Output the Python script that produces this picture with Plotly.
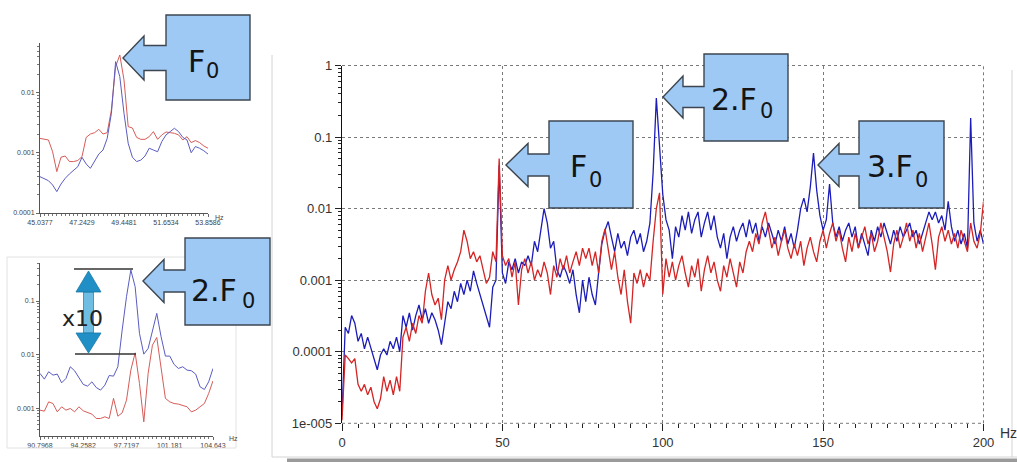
import numpy as np
import plotly.graph_objects as go

W, H = 1017, 462

# ---- main spectrum, 0..200 Hz (1 Hz bins) ----
freq = list(range(201))
blue = [
    1.3e-5, 2.2e-4, 1.8e-4, 3.2e-4, 2.5e-4, 1.4e-4, 1.8e-4, 1.1e-4, 1.6e-4, 1.1e-4,
    8e-5, 5.6e-5, 9e-5, 1.1e-4, 9e-5, 1.4e-4, 1.1e-4, 1.6e-4, 1e-4, 3.2e-4,
    2.2e-4, 3.5e-4, 2e-4, 3.2e-4, 4.5e-4, 2.8e-4, 4e-4, 2.5e-4, 3.5e-4, 2.8e-4,
    2e-4, 1.26e-4, 2.5e-4, 5e-4, 4e-4, 7e-4, 5e-4, 9e-4, 6.3e-4, 1e-3,
    7e-4, 1.35e-3, 9e-4, 6.3e-4, 4.5e-4, 3.2e-4, 2.2e-4, 8e-4, 1e-3, 0.04,
    1.26e-3, 9e-4, 1.8e-3, 1.4e-3, 2e-3, 1.26e-3, 1.8e-3, 1.6e-3, 2.2e-3, 1.6e-3,
    3.5e-3, 2.5e-3, 5e-3, 0.01, 6.3e-3, 2.8e-3, 3.5e-3, 1.4e-3, 1.1e-3, 1.6e-3,
    1.26e-3, 9e-4, 1.4e-3, 6.3e-4, 3.5e-4, 1e-3, 5e-4, 1.1e-3, 6.3e-4, 4.5e-4,
    1.26e-3, 3.2e-3, 5e-3, 6.6e-3, 4e-3, 2.5e-3, 4.5e-3, 2.8e-3, 3.5e-3, 2.2e-3,
    4e-3, 5e-3, 3.2e-3, 4.5e-3, 2.5e-3, 3.5e-3, 6.3e-3, 0.032, 0.35, 0.08,
    0.016, 7e-3, 5e-3, 2e-3, 5.6e-3, 4e-3, 8e-3, 5e-3, 9e-3, 4.5e-3,
    7e-3, 9e-3, 4e-3, 6.3e-3, 9e-3, 5e-3, 8e-3, 4e-3, 2.8e-3, 4.5e-3,
    2e-3, 4e-3, 5.6e-3, 3.5e-3, 5e-3, 6.3e-3, 4e-3, 7e-3, 4.5e-3, 6.3e-3,
    3.5e-3, 5.6e-3, 4e-3, 6.3e-3, 4.5e-3, 3.2e-3, 5e-3, 3.5e-3, 5.6e-3, 3.2e-3,
    4.5e-3, 2.8e-3, 5e-3, 0.01, 0.014, 9e-3, 0.02, 0.06, 0.018, 8e-3,
    5e-3, 7e-3, 0.022, 6.3e-3, 4e-3, 5.6e-3, 3.5e-3, 5e-3, 6.3e-3, 4e-3,
    5.6e-3, 2.8e-3, 4.5e-3, 3.2e-3, 2.2e-3, 5e-3, 3.5e-3, 5.6e-3, 4e-3, 6.3e-3,
    4.5e-3, 3.2e-3, 5e-3, 3.5e-3, 5.6e-3, 4e-3, 5e-3, 6.3e-3, 4e-3, 5e-3,
    3.2e-3, 4.5e-3, 6.3e-3, 9e-3, 7e-3, 9e-3, 6.3e-3, 8e-3, 5e-3, 0.0126,
    5.6e-3, 3.5e-3, 5e-3, 3.2e-3, 4.5e-3, 2.8e-3, 0.185, 6.3e-3, 3.5e-3, 5e-3,
    3.2e-3,
]
red = [
    1.1e-5, 9e-5, 8e-5, 7e-5, 8e-5, 3.5e-5, 2.8e-5, 3.5e-5, 2.5e-5, 3.2e-5,
    2e-5, 1.6e-5, 2.2e-5, 4.5e-5, 2.8e-5, 4e-5, 2.5e-5, 4.5e-5, 2.8e-5, 1.6e-4,
    2.2e-4, 1.4e-4, 2.5e-4, 1.8e-4, 3.2e-4, 2.5e-4, 7e-4, 1.26e-3, 6.3e-4, 4.5e-4,
    5.6e-4, 2.8e-4, 1e-3, 1.6e-3, 1e-3, 1.4e-3, 1.8e-3, 2.5e-3, 5e-3, 3.5e-3,
    2e-3, 2.5e-3, 1.8e-3, 2.2e-3, 1.4e-3, 9e-4, 1.1e-3, 2.5e-3, 1.8e-3, 0.05,
    2.2e-3, 1.6e-3, 2e-3, 1.1e-3, 1.8e-3, 4.5e-4, 1.4e-3, 2e-3, 1.26e-3, 1.8e-3,
    1e-3, 1.4e-3, 1.1e-3, 1.8e-3, 1.26e-3, 6.3e-4, 1.6e-3, 1.1e-3, 2e-3, 1.4e-3,
    2.2e-3, 1.26e-3, 1.8e-3, 2.5e-3, 1.6e-3, 2.8e-3, 2e-3, 2.8e-3, 1.6e-3, 2.5e-3,
    1.26e-3, 3.5e-3, 5.2e-3, 2.5e-3, 1.4e-3, 2.5e-3, 1.1e-3, 6.3e-4, 1.4e-3, 5e-4,
    2.5e-4, 1.26e-3, 9e-4, 1.4e-3, 8e-4, 1.26e-3, 1e-3, 3.5e-3, 0.01, 0.0166,
    6.3e-4, 2e-3, 1.1e-3, 1.8e-3, 1e-3, 1.6e-3, 2.2e-3, 1.26e-3, 8e-4, 1.6e-3,
    1.1e-3, 2e-3, 7e-4, 1.4e-3, 2.2e-3, 1.26e-3, 1.8e-3, 1e-3, 7e-4, 1.6e-3,
    1.1e-3, 2e-3, 1.26e-3, 8e-4, 1.8e-3, 1.26e-3, 2.5e-3, 3.5e-3, 2.5e-3, 4.5e-3,
    3.2e-3, 6.3e-3, 9e-3, 5e-3, 2.8e-3, 4e-3, 2.2e-3, 3.5e-3, 5e-3, 2.8e-3,
    2e-3, 3.2e-3, 2.2e-3, 3.5e-3, 1.6e-3, 2.8e-3, 4e-3, 2.5e-3, 1.8e-3, 3.5e-3,
    5e-3, 2.8e-3, 4.5e-3, 6.3e-3, 3.5e-3, 5e-3, 2.8e-3, 1.8e-3, 4e-3, 2.5e-3,
    4.5e-3, 2.8e-3, 4e-3, 5.6e-3, 3.2e-3, 4.5e-3, 2.5e-3, 3.5e-3, 6.3e-3, 4e-3,
    2.5e-3, 1.3e-3, 3.2e-3, 5e-3, 2.8e-3, 4e-3, 6.3e-3, 3.5e-3, 5e-3, 2.8e-3,
    4.5e-3, 2.5e-3, 4e-3, 6.3e-3, 3.2e-3, 1.4e-3, 4e-3, 5.6e-3, 3.5e-3, 5e-3,
    3.2e-3, 4.5e-3, 2.8e-3, 5e-3, 3.5e-3, 2.5e-3, 6.3e-3, 3.5e-3, 2.8e-3, 4.5e-3,
    0.0126,
]

# ---- zoom around F0 ----
f0_ticks = [45.0377, 47.2429, 49.4481, 51.6534, 53.8586]
f0_freq = np.linspace(f0_ticks[0], f0_ticks[-1], 41)
f0_red = [0.00175, 0.00169, 0.00165, 0.00105, 0.00049, 0.00085, 0.00089, 0.00072, 0.00072, 0.00075,
          0.00087, 0.00182, 0.00207, 0.00218, 0.00248, 0.00207, 0.00218, 0.0052, 0.0275, 0.043,
          0.0165, 0.00275, 0.00261, 0.00182, 0.00169, 0.00169, 0.00187, 0.00227, 0.00169, 0.002,
          0.00224, 0.00218, 0.00213, 0.002, 0.00165, 0.00187, 0.00149, 0.00161, 0.00149, 0.00131, 0.0012]
f0_blue = [0.000403, 0.000378, 0.000346, 0.000293, 0.000227, 0.000304, 0.000378, 0.000447, 0.000521, 0.000592,
           0.000847, 0.000656, 0.000555, 0.00072, 0.00096, 0.00112, 0.00175, 0.00458, 0.0333, 0.0187,
           0.00458, 0.00145, 0.00085, 0.00072, 0.00076, 0.00089, 0.0012, 0.00112, 0.00105, 0.00155,
           0.002, 0.00227, 0.00258, 0.00227, 0.00182, 0.00165, 0.00101, 0.00128, 0.0012, 0.00109, 0.00096]

# ---- zoom around 2.F0 ----
f2_ticks = [90.7968, 94.2582, 97.7197, 101.181, 104.643]
f2_freq = np.linspace(f2_ticks[0], f2_ticks[-1], 41)
f2_blue = [0.00445, 0.00348, 0.00478, 0.00414, 0.00432, 0.00297, 0.00358, 0.00592, 0.00499, 0.00374,
           0.00277, 0.00258, 0.0031, 0.00243, 0.00217, 0.00269, 0.00407, 0.00396, 0.00592, 0.0287,
           0.1205, 0.379, 0.185, 0.0249, 0.0102, 0.013, 0.0295, 0.0588, 0.0215, 0.00938,
           0.00938, 0.00655, 0.00551, 0.00592, 0.00513, 0.00499, 0.00432, 0.00251, 0.00223, 0.0031, 0.00551]
f2_red = [0.000918, 0.000879, 0.00131, 0.00122, 0.000853, 0.00106, 0.000918, 0.000986, 0.000853, 0.00106,
          0.000891, 0.000841, 0.000773, 0.000641, 0.000641, 0.000689, 0.000641, 0.00152, 0.000708, 0.000818,
          0.00141, 0.00513, 0.0108, 0.00289, 0.000555, 0.00445, 0.015, 0.0209, 0.00513, 0.00152,
          0.00131, 0.00122, 0.00119, 0.00114, 0.00106, 0.000853, 0.000918, 0.00106, 0.00122, 0.00188, 0.00324]

main_yticks = [1e-5, 1e-4, 1e-3, 1e-2, 1e-1, 1]
main_ylabels = ["1e-005", "0.0001", "0.001", "0.01", "0.1", "1"]

BLUE, RED = "#1c1cb8", "#d42424"
BLUE_S, RED_S = "#5a5cc0", "#d65c58"


def px(x):
    return x / W


def py(y):
    return 1 - y / H


def log_minor(lo, hi):
    return [m * 10.0 ** e for e in range(lo, hi) for m in range(2, 10)]


fig = go.Figure()
fig.add_trace(go.Scatter(x=freq, y=blue, mode="lines", line=dict(color=BLUE, width=1.3),
                         xaxis="x", yaxis="y", showlegend=False))
fig.add_trace(go.Scatter(x=freq, y=red, mode="lines", line=dict(color=RED, width=1.3),
                         xaxis="x", yaxis="y", showlegend=False))
fig.add_trace(go.Scatter(x=f0_freq, y=f0_red, mode="lines", line=dict(color=RED_S, width=1),
                         xaxis="x2", yaxis="y2", showlegend=False))
fig.add_trace(go.Scatter(x=f0_freq, y=f0_blue, mode="lines", line=dict(color=BLUE_S, width=1),
                         xaxis="x2", yaxis="y2", showlegend=False))
fig.add_trace(go.Scatter(x=f2_freq, y=f2_blue, mode="lines", line=dict(color=BLUE_S, width=1),
                         xaxis="x3", yaxis="y3", showlegend=False))
fig.add_trace(go.Scatter(x=f2_freq, y=f2_red, mode="lines", line=dict(color=RED_S, width=1),
                         xaxis="x3", yaxis="y3", showlegend=False))

tick_font = dict(family="Liberation Sans, Arial, sans-serif", size=12, color="#333")
small_font = dict(family="Liberation Sans, Arial, sans-serif", size=7, color="#444")
callout_font = "DejaVu Sans, Verdana, sans-serif"

layout = dict(
    width=W, height=H, margin=dict(l=0, r=0, t=0, b=0, autoexpand=False),
    paper_bgcolor="white", plot_bgcolor="white", showlegend=False,
    xaxis=dict(domain=[px(342), px(983.5)], range=[0, 200], anchor="y", automargin=False,
               tickmode="array", tickvals=[0, 50, 100, 150, 200],
               ticks="outside", ticklen=7, tickcolor="#222", tickwidth=1,
               minor=dict(tickmode="array", tickvals=list(range(0, 201, 5)),
                          ticks="outside", ticklen=4, tickcolor="#222", showgrid=False),
               showgrid=True, gridcolor="#7a7a7a", griddash="dot", gridwidth=1,
               showline=False, zeroline=False, tickfont=dict(tick_font, size=13)),
    yaxis=dict(domain=[py(423.3), py(65.5)], type="log", range=[-5, 0], anchor="x", automargin=False,
               tickmode="array", tickvals=main_yticks, ticktext=main_ylabels,
               ticks="outside", ticklen=6, tickcolor="#222",
               minor=dict(tickmode="array", tickvals=log_minor(-5, 0),
                          ticks="outside", ticklen=3, tickcolor="#222", showgrid=False),
               showgrid=True, gridcolor="#7a7a7a", griddash="dot", gridwidth=1,
               showline=True, linecolor="#111", linewidth=1.3, zeroline=False,
               tickfont=dict(tick_font, size=13)),
    xaxis2=dict(domain=[px(40), px(208)], range=[f0_ticks[0], f0_ticks[-1]], anchor="y2", automargin=False,
                tickmode="array", tickvals=f0_ticks, ticktext=[str(v) for v in f0_ticks],
                ticks="outside", ticklen=3, tickcolor="#666",
                minor=dict(tickmode="array", tickvals=list(f0_freq), ticks="outside",
                           ticklen=2, tickcolor="#777", showgrid=False),
                showgrid=False, showline=True, linecolor="#555", linewidth=1, zeroline=False,
                tickfont=small_font),
    yaxis2=dict(domain=[py(213), py(43)], type="log", range=[-4, -1.167], anchor="x2", automargin=False,
                tickmode="array", tickvals=[1e-4, 1e-3, 1e-2], ticktext=["0.0001", "0.001", "0.01"],
                ticks="outside", ticklen=3, tickcolor="#666",
                minor=dict(tickmode="array", tickvals=log_minor(-4, -1), ticks="outside",
                           ticklen=2, tickcolor="#777", showgrid=False),
                showgrid=False, showline=True, linecolor="#555", linewidth=1, zeroline=False,
                tickfont=small_font),
    xaxis3=dict(domain=[px(40), px(213)], range=[f2_ticks[0], f2_ticks[-1]], anchor="y3", automargin=False,
                tickmode="array", tickvals=f2_ticks, ticktext=[str(v) for v in f2_ticks],
                ticks="outside", ticklen=3, tickcolor="#666",
                minor=dict(tickmode="array", tickvals=list(f2_freq), ticks="outside",
                           ticklen=2, tickcolor="#777", showgrid=False),
                showgrid=False, showline=True, linecolor="#555", linewidth=1, zeroline=False,
                tickfont=small_font),
    yaxis3=dict(domain=[py(436), py(263)], type="log", range=[-3.52, -0.29], anchor="x3", automargin=False,
                tickmode="array", tickvals=[1e-3, 1e-2, 1e-1], ticktext=["0.001", "0.01", "0.1"],
                ticks="outside", ticklen=3, tickcolor="#666",
                minor=dict(tickmode="array", tickvals=log_minor(-4, 0), ticks="outside",
                           ticklen=2, tickcolor="#777", showgrid=False),
                showgrid=False, showline=True, linecolor="#555", linewidth=1, zeroline=False,
                tickfont=small_font),
)
fig.update_layout(**layout)

shapes = []

# dotted frame of the main plot (top, bottom, right edges)
dot = dict(color="#7a7a7a", width=1, dash="dot")
shapes.append(dict(type="line", xref="x domain", yref="y domain", x0=0, x1=1, y0=1, y1=1, line=dot))
shapes.append(dict(type="line", xref="x domain", yref="y domain", x0=0, x1=1, y0=0, y1=0, line=dot))
shapes.append(dict(type="line", xref="x domain", yref="y domain", x0=1, x1=1, y0=0, y1=1, line=dot))

# window frame around the main plot
frame = dict(color="#d4d4d4", width=1)
shapes.append(dict(type="line", xref="paper", yref="paper", x0=px(272), x1=px(272), y0=py(55), y1=py(457), line=frame))
shapes.append(dict(type="line", xref="paper", yref="paper", x0=px(1012), x1=px(1012), y0=py(70), y1=py(457), line=frame))
shapes.append(dict(type="line", xref="paper", yref="paper", x0=px(272), x1=px(1017), y0=py(457), y1=py(457), line=frame))
shapes.append(dict(type="rect", xref="paper", yref="paper", x0=px(287), x1=px(1017), y0=py(462), y1=py(458.5),
                   fillcolor="#9a9a9a", line=dict(width=0)))
# faint frame of the 2.F0 zoom window
shapes.append(dict(type="rect", xref="paper", yref="paper", x0=px(7), x1=px(236), y0=py(448), y1=py(257),
                   line=dict(color="#e2e2e2", width=1)))


def callout(box, tip, head_base, head_half, shaft_half):
    x0, y0, x1, y1 = box
    tx, ty = tip
    pts = [(x0, ty - shaft_half), (x0, y0), (x1, y0), (x1, y1), (x0, y1), (x0, ty + shaft_half),
           (head_base, ty + shaft_half), (head_base, ty + head_half), (tx, ty),
           (head_base, ty - head_half), (head_base, ty - shaft_half)]
    path = "M " + " L ".join(f"{px(a):.5f},{py(b):.5f}" for a, b in pts) + " Z"
    return dict(type="path", xref="paper", yref="paper", path=path,
                fillcolor="#9dc9f4", line=dict(color="#3d4650", width=1.4))


# box, arrow tip, head base x, head half-height, shaft half-height,
# label, label left/centre, subscript left/centre
callouts = [
    ((166, 15, 250, 100), (123, 58), 144, 22, 12.5, "F", (187, 61.5), (204.5, 71)),
    ((185, 238, 270, 325), (143, 281), 164, 21.5, 11, "2.F", (190, 290), (240.5, 301)),
    ((549, 121, 633, 208), (506, 165), 528, 21.5, 11, "F", (569, 166.5), (587.5, 179.5)),
    ((704, 54, 788, 141), (663, 97), 683, 21, 10.5, "2.F", (710, 99), (758.5, 111)),
    ((859, 121, 944, 208), (818, 165), 839, 21.5, 11, "3.F", (866, 166.5), (913.5, 179.5)),
]
annotations = []
for box, tip, hb, hh, sh, label, (lx, ly), (sx, sy) in callouts:
    shapes.append(callout(box, tip, hb, hh, sh))
    annotations.append(dict(xref="paper", yref="paper", x=px(lx), y=py(ly), text=label,
                            xanchor="left", yanchor="middle", showarrow=False, borderpad=0,
                            font=dict(family=callout_font, size=30, color="#141414")))
    annotations.append(dict(xref="paper", yref="paper", x=px(sx), y=py(sy), text="0",
                            xanchor="left", yanchor="middle", showarrow=False, borderpad=0,
                            font=dict(family=callout_font, size=21, color="#141414")))

# x10 ratio marker in the 2.F0 zoom
shapes.append(dict(type="line", xref="paper", yref="paper", x0=px(74), x1=px(133), y0=py(269), y1=py(269),
                   line=dict(color="#333", width=1.5)))
shapes.append(dict(type="line", xref="paper", yref="paper", x0=px(75), x1=px(136), y0=py(354), y1=py(354),
                   line=dict(color="#333", width=1.5)))
shapes.append(dict(type="rect", xref="paper", yref="paper", x0=px(83.5), x1=px(93.5), y0=py(333), y1=py(292),
                   fillcolor="#6fbde2", line=dict(color="#2a86b5", width=0.8)))


def tri(p1, p2, p3):
    path = "M " + " L ".join(f"{px(a):.5f},{py(b):.5f}" for a, b in (p1, p2, p3)) + " Z"
    return dict(type="path", xref="paper", yref="paper", path=path,
                fillcolor="#1f8fc6", line=dict(color="#1878a8", width=0.8))


shapes.append(tri((88.5, 271), (76, 292), (101, 292)))
shapes.append(tri((88.5, 353), (76, 333), (101, 333)))
annotations.append(dict(xref="paper", yref="paper", x=px(82), y=py(318), text="x10", showarrow=False,
                        xanchor="center", yanchor="middle",
                        font=dict(family=callout_font, size=22, color="#222")))

# unit labels
annotations.append(dict(xref="paper", yref="paper", x=px(998), y=py(433), text="Hz", showarrow=False,
                        xanchor="left", yanchor="middle", font=dict(tick_font, size=14)))
annotations.append(dict(xref="paper", yref="paper", x=px(213), y=py(217), text="Hz", showarrow=False,
                        xanchor="left", yanchor="middle", font=small_font))
annotations.append(dict(xref="paper", yref="paper", x=px(227), y=py(438), text="Hz", showarrow=False,
                        xanchor="left", yanchor="middle", font=small_font))

fig.update_layout(shapes=shapes, annotations=annotations)
fig.write_html("out.html")
